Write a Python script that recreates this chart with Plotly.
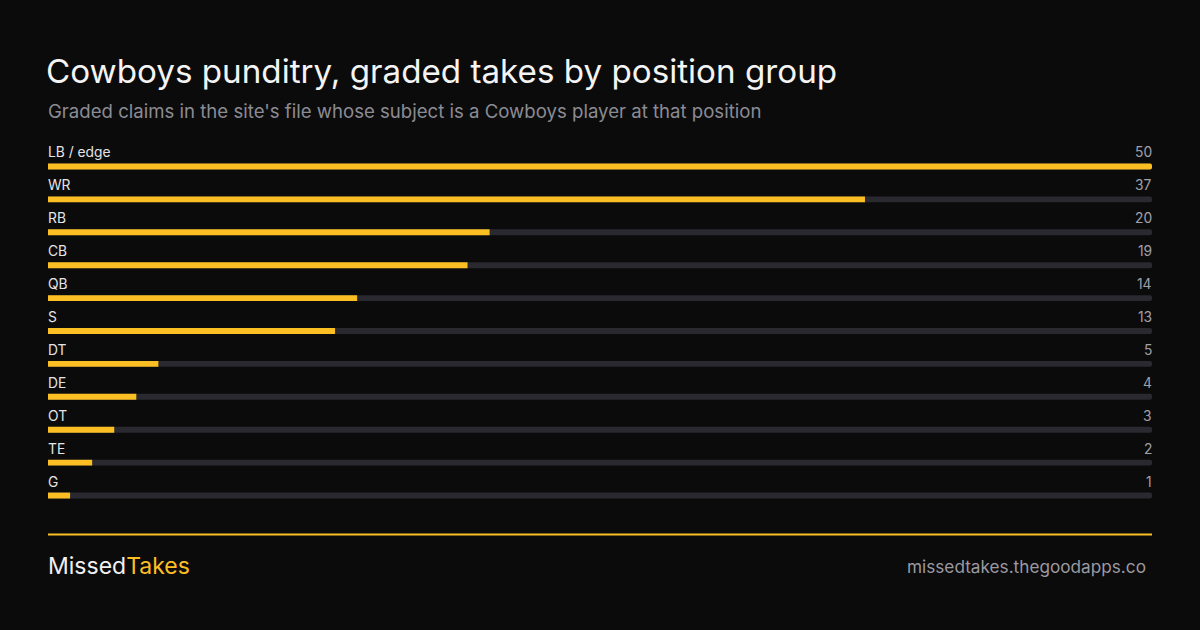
import plotly.graph_objects as go

# positions, most takes first
positions = ["LB / edge", "WR", "RB", "CB", "QB", "S", "DT", "DE", "OT", "TE", "G"]
takes = [50, 37, 20, 19, 14, 13, 5, 4, 3, 2, 1]

title = "Cowboys punditry, graded takes by position group"
subtitle = "Graded claims in the site's file whose subject is a Cowboys player at that position"
site = "missedtakes.thegoodapps.co"

BG = "#0b0b0b"
YELLOW = "#fbbf24"
TRACK = "#2a2930"
FONT = "Inter, Roboto, sans-serif"

W, H = 1200, 630
top, bottom = 149.5, 512.5
ph = bottom - top


def py(pix):
    # pixel row -> paper y
    return (bottom - pix) / ph


vmax = max(takes)
fig = go.Figure()
fig.add_trace(go.Bar(
    x=[vmax] * len(positions), y=positions, orientation="h",
    marker=dict(color=TRACK, cornerradius=3, line=dict(width=0)),
    width=0.18, hoverinfo="skip", showlegend=False,
))
fig.add_trace(go.Bar(
    x=takes, y=positions, orientation="h",
    marker=dict(color=YELLOW, cornerradius=3, line=dict(width=0)),
    width=0.18, hovertemplate="%{y}: %{x}<extra></extra>", showlegend=False,
))

annotations = []
for p, v in zip(positions, takes):
    annotations.append(dict(x=0, y=p, xref="x", yref="y", text=p, showarrow=False,
                            xanchor="left", yanchor="middle", yshift=14, xshift=-2,
                            font=dict(family=FONT, size=13.8, color="#e4e4e7")))
    annotations.append(dict(x=vmax, y=p, xref="x", yref="y", text=str(v), showarrow=False,
                            xanchor="right", yanchor="middle", yshift=14, xshift=2,
                            font=dict(family=FONT, size=13.8, color="#a1a1aa")))

annotations.append(dict(x=0, y=py(110), xref="paper", yref="paper", text=subtitle,
                        showarrow=False, xanchor="left", yanchor="middle", xshift=-2,
                        font=dict(family=FONT, size=18.6, color="#8b8b94")))
annotations.append(dict(x=0, y=py(567), xref="paper", yref="paper",
                        text="Missed<span style='color:%s'>Takes</span>" % YELLOW,
                        showarrow=False, xanchor="left", yanchor="middle", xshift=-2,
                        font=dict(family=FONT, size=23, color="#f0f0f0")))
annotations.append(dict(x=(1146 - 48) / 1104, y=py(567), xref="paper", yref="paper", text=site,
                        showarrow=False, xanchor="right", yanchor="middle", xshift=2,
                        font=dict(family=FONT, size=17.2, color="#9a9aa2")))

fig.update_layout(
    width=W, height=H,
    paper_bgcolor=BG, plot_bgcolor=BG,
    margin=dict(l=48, r=48, t=top, b=H - bottom, pad=0),
    barmode="overlay",
    title=dict(text=title, x=46 / W, xanchor="left", xref="container",
               y=1 - 71.5 / H, yanchor="middle", yref="container",
               font=dict(family=FONT, size=33.2, color="#f4f4f5")),
    xaxis=dict(range=[0, vmax], visible=False, fixedrange=True),
    yaxis=dict(range=[len(positions) - 0.5, -0.5], visible=False, fixedrange=True),
    annotations=annotations,
    shapes=[dict(type="line", xref="paper", yref="paper", x0=0, x1=1,
                 y0=py(535), y1=py(535), line=dict(color=YELLOW, width=2))],
    font=dict(family=FONT),
)

fig.write_html("out.html", config={"displayModeBar": False},
               post_script="document.body.style.margin='0';document.body.style.background='%s';" % BG)
